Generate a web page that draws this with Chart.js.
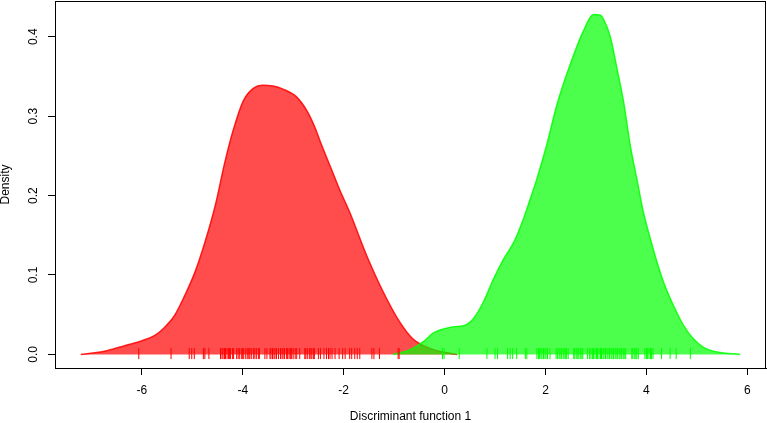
<!DOCTYPE html>
<html>
<head>
<meta charset="utf-8">
<script src="https://cdn.jsdelivr.net/npm/chart.js@4.4.1/dist/chart.umd.min.js"></script>
<style>
  html, body { margin: 0; padding: 0; background: #fff; }
  #wrap { width: 767px; height: 423px; }
</style>
</head>
<body>
<div id="wrap"><canvas id="densityChart"></canvas></div>
<script>
// Density of group 1 (red)
const redX = [-7.21, -6.93, -6.67, -6.34, -6.01, -5.74, -5.55, -5.35, -5.15, -4.95, -4.75, -4.55, -4.35,
  -4.19, -3.99, -3.79, -3.60, -3.40, -3.20, -2.93, -2.73, -2.57, -2.47, -2.21, -2.07, -1.88, -1.54,
  -1.21, -0.88, -0.62, -0.42, -0.22, 0.05, 0.25];
const redY = [0.000, 0.002, 0.005, 0.011, 0.017, 0.024, 0.034, 0.049, 0.074, 0.103, 0.141, 0.186, 0.243,
  0.282, 0.319, 0.335, 0.339, 0.338, 0.334, 0.324, 0.307, 0.286, 0.269, 0.228, 0.206, 0.179, 0.124,
  0.078, 0.040, 0.019, 0.011, 0.006, 0.002, 0.000];

// Density of group 2 (green)
const greenX = [-1.02, -0.68, -0.42, -0.22, 0.04, 0.20, 0.37, 0.57, 0.77, 0.97, 1.17, 1.37, 1.56, 1.70,
  1.83, 2.03, 2.23, 2.49, 2.75, 2.95, 3.09, 3.15, 3.28, 3.42, 3.55, 3.68, 3.81, 3.94, 4.08, 4.21,
  4.34, 4.54, 4.74, 4.94, 5.13, 5.40, 5.86];
const greenY = [0.000, 0.006, 0.016, 0.027, 0.033, 0.035, 0.036, 0.045, 0.066, 0.095, 0.120, 0.141, 0.170, 0.196,
  0.221, 0.265, 0.315, 0.365, 0.407, 0.428, 0.427, 0.422, 0.401, 0.359, 0.317, 0.263, 0.221, 0.179, 0.145, 0.116,
  0.091, 0.061, 0.036, 0.019, 0.009, 0.003, 0.000];

// Rug marks (observed scores)
const redRug = [-6.06, -5.42, -5.06, -5.01, -4.96, -4.78, -4.75, -4.67, -4.44, -4.41, -4.39, -4.36, -4.34,
  -4.31, -4.28, -4.26, -4.24, -4.20, -4.18, -4.12, -4.09, -4.06, -4.02, -4.00, -3.98, -3.94, -3.91,
  -3.88, -3.86, -3.83, -3.79, -3.76, -3.73, -3.69, -3.67, -3.56, -3.52, -3.46, -3.44, -3.41, -3.38,
  -3.36, -3.33, -3.29, -3.25, -3.22, -3.20, -3.17, -3.13, -3.11, -3.08, -3.05, -3.03, -3.00, -2.96,
  -2.93, -2.87, -2.77, -2.75, -2.72, -2.68, -2.65, -2.63, -2.60, -2.58, -2.50, -2.46, -2.39, -2.34,
  -2.30, -2.27, -2.23, -2.17, -2.09, -2.02, -1.97, -1.88, -1.84, -1.78, -1.73, -1.68, -1.44, -1.40,
  -1.29, -0.92, -0.90];
const greenRug = [-0.04, -0.01, 0.29, 0.84, 1.00, 1.05, 1.25, 1.30, 1.35, 1.43, 1.60, 1.63, 1.83, 1.86,
  1.88, 1.91, 1.93, 1.96, 1.99, 2.01, 2.04, 2.09, 2.21, 2.24, 2.27, 2.29, 2.32, 2.35, 2.37, 2.40,
  2.42, 2.45, 2.56, 2.58, 2.61, 2.64, 2.66, 2.69, 2.72, 2.74, 2.83, 2.87, 2.90, 2.93, 2.95, 2.98,
  3.01, 3.03, 3.06, 3.09, 3.11, 3.14, 3.16, 3.19, 3.22, 3.24, 3.27, 3.30, 3.32, 3.35, 3.38, 3.40,
  3.43, 3.46, 3.48, 3.51, 3.54, 3.56, 3.59, 3.71, 3.73, 3.76, 3.79, 3.81, 3.84, 3.97, 4.00, 4.02,
  4.05, 4.08, 4.10, 4.13, 4.30, 4.47, 4.59, 4.87];

const xTicks = [-6, -4, -2, 0, 2, 4, 6];
const yTicks = [0, 0.1, 0.2, 0.3, 0.4];

const FONT = "'Liberation Sans', Arial, sans-serif";

const toPoints = (xs, ys) => xs.map((x, i) => ({ x: x, y: ys[i] }));
const rugPoints = (xs) => xs.map((x) => ({ x: x, y: 0.001 }));

// draws the full box around the plot region
const plotBox = {
  id: "plotBox",
  afterDraw(chart) {
    const { ctx, chartArea: a } = chart;
    ctx.save();
    ctx.strokeStyle = "#000";
    ctx.lineWidth = 1;
    ctx.strokeRect(Math.round(a.left) + 0.5, Math.round(a.top) + 0.5,
      Math.round(a.right - a.left) - 1, Math.round(a.bottom - a.top));
    ctx.restore();
  },
};

function densityLine(xs, ys, line, fill, order) {
  return {
    type: "line",
    data: toPoints(xs, ys),
    showLine: true,
    borderColor: line,
    backgroundColor: fill,
    borderWidth: 1.5,
    fill: "origin",
    pointRadius: 0,
    cubicInterpolationMode: "monotone",
    order: order,
  };
}

function rug(xs, color) {
  return {
    type: "scatter",
    data: rugPoints(xs),
    pointStyle: "line",
    pointRotation: 90,
    pointRadius: 5.5,
    pointBorderWidth: 1,
    pointBorderColor: color,
    borderColor: color,
    order: 0,
  };
}

new Chart(document.getElementById("densityChart"), {
  type: "scatter",
  data: {
    datasets: [
      densityLine(redX, redY, "rgba(255,0,0,0.85)", "rgba(255,0,0,0.7)", 2),
      densityLine(greenX, greenY, "rgba(0,255,0,0.85)", "rgba(0,255,0,0.7)", 1),
      rug(redRug, "#ff0000"),
      rug(greenRug, "#00ff00"),
    ],
  },
  options: {
    responsive: true,
    maintainAspectRatio: false,
    animation: false,
    devicePixelRatio: 1,
    layout: { autoPadding: false, padding: { top: 1, right: 1, left: 0, bottom: 0 } },
    plugins: {
      legend: { display: false },
      tooltip: { enabled: false },
    },
    scales: {
      x: {
        type: "linear",
        min: -7.72,
        max: 6.37,
        afterBuildTicks: (scale) => {
          scale.ticks = xTicks.map((v) => ({ value: v }));
        },
        afterFit: (scale) => {
          scale.height = 55;
          scale.paddingLeft = 0;
          scale.paddingRight = 0;
        },
        grid: {
          drawOnChartArea: false,
          drawTicks: true,
          tickLength: 7,
          tickColor: "#000",
        },
        border: { display: true, color: "#000" },
        ticks: {
          color: "#000",
          padding: 8,
          maxRotation: 0,
          autoSkip: false,
          font: { family: FONT, size: 12 },
          callback: (v) => String(v),
        },
        title: {
          display: true,
          text: "Discriminant function 1",
          color: "#000",
          font: { family: FONT, size: 12, lineHeight: 1 },
          padding: { top: 0, bottom: 0 },
        },
      },
      y: {
        type: "linear",
        min: -0.0171,
        max: 0.445,
        afterBuildTicks: (scale) => {
          scale.ticks = yTicks.map((v) => ({ value: v }));
        },
        afterFit: (scale) => {
          scale.width = 55;
          scale.paddingTop = 0;
          scale.paddingBottom = 0;
        },
        grid: {
          drawOnChartArea: false,
          drawTicks: true,
          tickLength: 7,
          tickColor: "#000",
        },
        border: { display: true, color: "#000" },
        ticks: {
          color: "#000",
          padding: 6,
          minRotation: 90,
          maxRotation: 90,
          crossAlign: "center",
          font: { family: FONT, size: 12 },
          callback: (v) => v.toFixed(1),
        },
        title: {
          display: true,
          text: "Density",
          color: "#000",
          font: { family: FONT, size: 12, lineHeight: 1 },
          padding: { top: 0, bottom: 0 },
        },
      },
    },
  },
  plugins: [plotBox],
});
</script>
</body>
</html>
